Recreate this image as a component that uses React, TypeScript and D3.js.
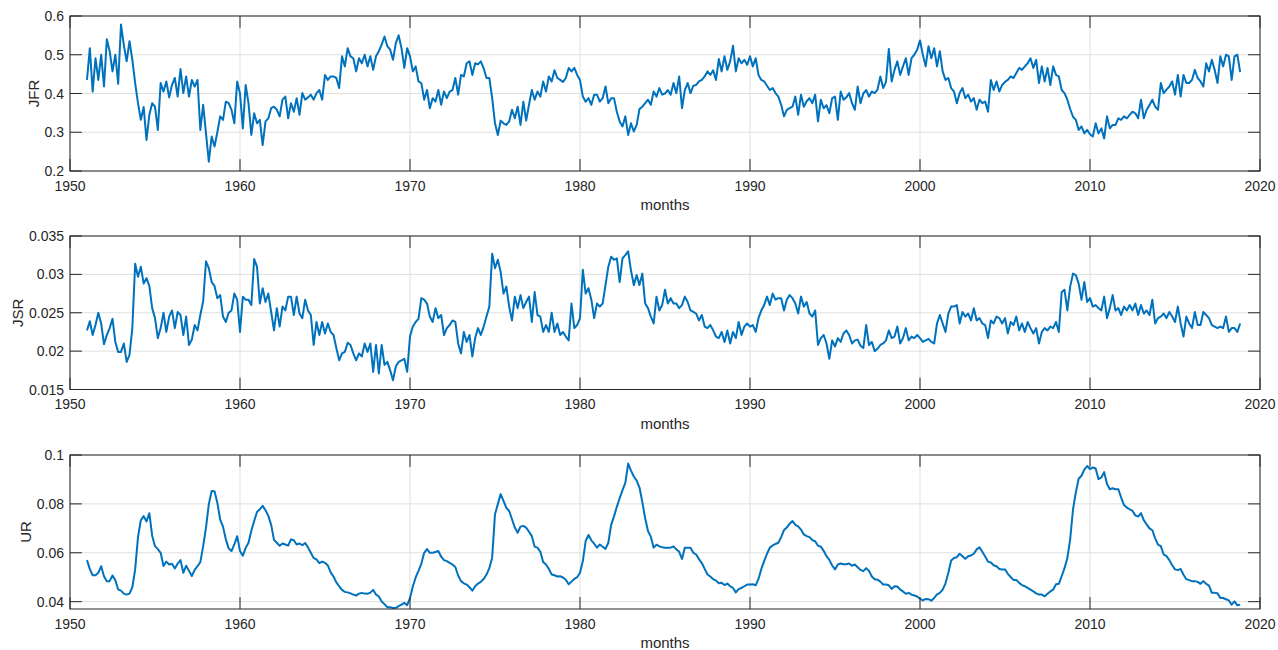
import React from 'react';
import * as d3 from 'd3';

// Monthly series sampled every two months (Jan, Mar, May, Jul, Sep, Nov), 1951-2018
const START_YEAR = 1951;
const PER_YEAR = 6;

const JFR = [
  0.435, 0.517, 0.405, 0.491, 0.435, 0.50,
  0.418, 0.54, 0.509, 0.457, 0.50, 0.425,
  0.578, 0.525, 0.483, 0.535, 0.487, 0.427,
  0.375, 0.332, 0.365, 0.28, 0.345, 0.375,
  0.366, 0.306, 0.427, 0.405, 0.431, 0.39,
  0.422, 0.44, 0.392, 0.463, 0.401, 0.444,
  0.392, 0.435, 0.418, 0.435, 0.306, 0.371,
  0.297, 0.224, 0.289, 0.263, 0.30, 0.341,
  0.332, 0.379, 0.375, 0.358, 0.323, 0.431,
  0.40, 0.31, 0.422, 0.375, 0.293, 0.349,
  0.323, 0.332, 0.267, 0.328, 0.336, 0.362,
  0.366, 0.358, 0.341, 0.384, 0.392, 0.336,
  0.375, 0.353, 0.388, 0.345, 0.401, 0.384,
  0.39, 0.397, 0.384, 0.401, 0.409, 0.384,
  0.448, 0.435, 0.444, 0.444, 0.44, 0.414,
  0.496, 0.47, 0.517, 0.496, 0.491, 0.457,
  0.491, 0.478, 0.50, 0.47, 0.496, 0.461,
  0.496, 0.509, 0.526, 0.547, 0.522, 0.513,
  0.487, 0.53, 0.55, 0.517, 0.466, 0.517,
  0.496, 0.457, 0.47, 0.431, 0.427, 0.384,
  0.409, 0.362, 0.388, 0.379, 0.409, 0.371,
  0.405, 0.388, 0.405, 0.409, 0.44, 0.397,
  0.448, 0.444, 0.478, 0.483, 0.448, 0.478,
  0.475, 0.483, 0.465, 0.44, 0.44, 0.388,
  0.323, 0.293, 0.33, 0.323, 0.319, 0.328,
  0.358, 0.336, 0.366, 0.319, 0.379, 0.33,
  0.371, 0.409, 0.384, 0.405, 0.392, 0.431,
  0.405, 0.444, 0.431, 0.46, 0.44, 0.435,
  0.43, 0.44, 0.466, 0.457, 0.466, 0.448,
  0.435, 0.392, 0.379, 0.388, 0.371, 0.397,
  0.397, 0.379, 0.388, 0.418, 0.375, 0.388,
  0.388, 0.353, 0.328, 0.315, 0.341, 0.293,
  0.323, 0.302, 0.319, 0.36, 0.366, 0.375,
  0.384, 0.371, 0.405, 0.392, 0.414, 0.397,
  0.40, 0.409, 0.397, 0.427, 0.401, 0.444,
  0.362, 0.409, 0.427, 0.401, 0.42, 0.422,
  0.431, 0.435, 0.444, 0.457, 0.448, 0.46,
  0.435, 0.489, 0.457, 0.496, 0.461, 0.483,
  0.523, 0.457, 0.491, 0.478, 0.487, 0.474,
  0.496, 0.47, 0.491, 0.448, 0.435, 0.431,
  0.42, 0.409, 0.414, 0.401, 0.392, 0.371,
  0.341, 0.358, 0.362, 0.366, 0.392, 0.345,
  0.397, 0.366, 0.38, 0.388, 0.375, 0.397,
  0.328, 0.384, 0.362, 0.37, 0.349, 0.388,
  0.392, 0.332, 0.405, 0.384, 0.39, 0.401,
  0.375, 0.358, 0.418, 0.375, 0.40, 0.409,
  0.392, 0.405, 0.401, 0.41, 0.444, 0.414,
  0.43, 0.515, 0.431, 0.461, 0.483, 0.448,
  0.47, 0.491, 0.448, 0.491, 0.50, 0.513,
  0.537, 0.50, 0.47, 0.522, 0.491, 0.517,
  0.47, 0.509, 0.457, 0.435, 0.44, 0.414,
  0.405, 0.375, 0.401, 0.414, 0.388, 0.397,
  0.379, 0.388, 0.358, 0.384, 0.375, 0.379,
  0.353, 0.435, 0.409, 0.431, 0.405, 0.422,
  0.43, 0.435, 0.444, 0.44, 0.453, 0.466,
  0.461, 0.47, 0.478, 0.491, 0.466, 0.487,
  0.427, 0.47, 0.431, 0.466, 0.422, 0.47,
  0.448, 0.444, 0.409, 0.401, 0.384, 0.36,
  0.34, 0.332, 0.306, 0.315, 0.297, 0.306,
  0.295, 0.289, 0.323, 0.297, 0.31, 0.284,
  0.341, 0.31, 0.319, 0.319, 0.336, 0.332,
  0.341, 0.336, 0.345, 0.353, 0.349, 0.336,
  0.384, 0.336, 0.358, 0.37, 0.384, 0.366,
  0.358, 0.427, 0.401, 0.41, 0.418, 0.431,
  0.397, 0.448, 0.392, 0.448, 0.427, 0.427,
  0.435, 0.461, 0.44, 0.431, 0.418, 0.478,
  0.457, 0.487, 0.461, 0.427, 0.496, 0.47,
  0.50, 0.496, 0.435, 0.496, 0.50, 0.455,
];

const JSR = [
  0.0227, 0.0239, 0.0221, 0.0234, 0.025, 0.0236,
  0.0209, 0.0221, 0.023, 0.0242, 0.0212, 0.0199,
  0.0199, 0.021, 0.0186, 0.0195, 0.023, 0.0314,
  0.0297, 0.031, 0.0288, 0.0295, 0.0285, 0.0256,
  0.0243, 0.0217, 0.023, 0.025, 0.0225, 0.0245,
  0.0253, 0.023, 0.0251, 0.0247, 0.0221, 0.0245,
  0.0208, 0.0215, 0.0234, 0.0227, 0.0247, 0.0265,
  0.0317, 0.0308, 0.029, 0.0285, 0.0269, 0.0273,
  0.0245, 0.0238, 0.025, 0.0253, 0.0275, 0.0267,
  0.0225, 0.0271, 0.0267, 0.0267, 0.026, 0.032,
  0.031, 0.0262, 0.0282, 0.0264, 0.0275, 0.0251,
  0.0227, 0.0256, 0.0232, 0.0258, 0.0253, 0.0271,
  0.0271, 0.0247, 0.0271, 0.0249, 0.0243, 0.0267,
  0.0253, 0.0247, 0.0208, 0.0238, 0.0221, 0.0238,
  0.0223, 0.0236, 0.0225, 0.0221, 0.0204, 0.0188,
  0.0197, 0.0199, 0.0211, 0.0208, 0.0197, 0.0188,
  0.0197, 0.0193, 0.021, 0.0199, 0.021, 0.0173,
  0.0208, 0.0171, 0.0208, 0.0182, 0.0186, 0.0175,
  0.0162, 0.018, 0.0186, 0.0188, 0.019, 0.0173,
  0.0219, 0.0232, 0.0238, 0.0242, 0.0269, 0.0267,
  0.0262, 0.0245, 0.0238, 0.0256, 0.0243, 0.0247,
  0.0221, 0.023, 0.0234, 0.024, 0.0238, 0.021,
  0.0197, 0.0225, 0.0212, 0.0221, 0.0193, 0.0217,
  0.023, 0.0221, 0.0232, 0.0245, 0.0258, 0.0327,
  0.0308, 0.0319, 0.0303, 0.0275, 0.0284, 0.0258,
  0.024, 0.0271, 0.0256, 0.0273, 0.0256, 0.0264,
  0.0271, 0.0238, 0.0277, 0.0247, 0.0245, 0.0225,
  0.0234, 0.0225, 0.025, 0.0225, 0.0236, 0.0221,
  0.0225, 0.0219, 0.0214, 0.0262, 0.023, 0.0234,
  0.0243, 0.0306, 0.0275, 0.0282, 0.0267, 0.0243,
  0.0262, 0.0258, 0.0262, 0.0286, 0.031, 0.0323,
  0.0319, 0.0321, 0.029, 0.0321, 0.0325, 0.033,
  0.0305, 0.0286, 0.0299, 0.0286, 0.0301, 0.0262,
  0.0256, 0.0245, 0.0236, 0.0271, 0.0253, 0.026,
  0.028, 0.0262, 0.0269, 0.0262, 0.0262, 0.0256,
  0.026, 0.0271, 0.0264, 0.0253, 0.0251, 0.0249,
  0.024, 0.0247, 0.0232, 0.023, 0.0234, 0.0227,
  0.0219, 0.0217, 0.0225, 0.0212, 0.0227, 0.021,
  0.0225, 0.0217, 0.0238, 0.0221, 0.0232, 0.0236,
  0.0232, 0.0234, 0.0225, 0.0243, 0.0253, 0.026,
  0.0271, 0.026, 0.0275, 0.0267, 0.0269, 0.0269,
  0.0253, 0.0267, 0.0273, 0.0269, 0.0262, 0.0249,
  0.0271, 0.0258, 0.0264, 0.0249, 0.0245, 0.0253,
  0.0208, 0.0217, 0.0221, 0.021, 0.019, 0.0214,
  0.0206, 0.0217, 0.0212, 0.0223, 0.0227, 0.0221,
  0.021, 0.0214, 0.0215, 0.0207, 0.0204, 0.0234,
  0.0208, 0.0212, 0.02, 0.0203, 0.0208, 0.021,
  0.0214, 0.0227, 0.0217, 0.0219, 0.0232, 0.021,
  0.0217, 0.023, 0.0214, 0.0219, 0.0217, 0.0221,
  0.0217, 0.0212, 0.0214, 0.0216, 0.0212, 0.021,
  0.0236, 0.0247, 0.0236, 0.0225, 0.0249, 0.0258,
  0.0258, 0.026, 0.0236, 0.0251, 0.0245, 0.0249,
  0.024, 0.0256, 0.024, 0.0243, 0.0236, 0.0234,
  0.0217, 0.024, 0.0236, 0.0245, 0.0243, 0.0236,
  0.0243, 0.0223, 0.0238, 0.0234, 0.0245, 0.0227,
  0.0236, 0.0225, 0.0238, 0.023, 0.0223, 0.023,
  0.021, 0.0225, 0.023, 0.0227, 0.0232, 0.023,
  0.0238, 0.0225, 0.0277, 0.028, 0.0253, 0.0284,
  0.0301, 0.0299, 0.0288, 0.0267, 0.029, 0.0264,
  0.0269, 0.0258, 0.026, 0.0256, 0.0253, 0.0271,
  0.0243, 0.0256, 0.0273, 0.0253, 0.0256, 0.0247,
  0.0258, 0.0253, 0.026, 0.0253, 0.0262, 0.0247,
  0.026, 0.0249, 0.0253, 0.0247, 0.0267, 0.0236,
  0.0243, 0.0245, 0.0249, 0.0243, 0.0251, 0.0245,
  0.0238, 0.0258, 0.0236, 0.0219, 0.0245, 0.0236,
  0.023, 0.0251, 0.0234, 0.0234, 0.0251, 0.0247,
  0.0243, 0.0234, 0.0232, 0.023, 0.0232, 0.023,
  0.0245, 0.0225, 0.023, 0.023, 0.0225, 0.0236,
];

const UR = [
  0.057, 0.0533, 0.0508, 0.0508, 0.0518, 0.0545,
  0.0504, 0.0484, 0.0484, 0.0507, 0.0488, 0.045,
  0.0445, 0.0433, 0.0429, 0.0433, 0.0459, 0.0532,
  0.0664, 0.0733, 0.075, 0.0728, 0.0762, 0.067,
  0.0627, 0.0615, 0.06, 0.0546, 0.0564, 0.0552,
  0.0555, 0.0536, 0.0556, 0.057, 0.0518, 0.0547,
  0.0526, 0.0505, 0.053, 0.0545, 0.0562, 0.0627,
  0.0703, 0.0799, 0.0853, 0.0852, 0.0805, 0.0736,
  0.0707, 0.0655, 0.0618, 0.0607, 0.0634, 0.0668,
  0.0607, 0.0588, 0.062, 0.0641, 0.069, 0.073,
  0.0767, 0.0778, 0.0792, 0.0774, 0.0751, 0.0714,
  0.0653, 0.0641, 0.0629, 0.0638, 0.0634, 0.0629,
  0.0655, 0.0651, 0.0634, 0.0638, 0.0631, 0.064,
  0.0622, 0.06, 0.0578, 0.0573, 0.0558, 0.0564,
  0.0559, 0.0548, 0.052, 0.0503, 0.0479, 0.0463,
  0.0448, 0.044, 0.0438, 0.0434, 0.0429, 0.0425,
  0.0433, 0.0436, 0.0433, 0.0432, 0.0437, 0.0448,
  0.0429, 0.0421, 0.0401, 0.039, 0.0377, 0.0377,
  0.0374, 0.0375, 0.0382, 0.0388, 0.0395, 0.0386,
  0.0415, 0.0462, 0.0499, 0.0526, 0.0555, 0.06,
  0.0615, 0.06, 0.06, 0.0603, 0.0607, 0.0584,
  0.057, 0.0566, 0.0559, 0.0552, 0.0542, 0.0507,
  0.0484, 0.0475, 0.047, 0.0459, 0.0445, 0.0463,
  0.0474, 0.0481, 0.0493, 0.0511, 0.0537, 0.058,
  0.0758, 0.0799, 0.084, 0.0812, 0.0784, 0.0771,
  0.0737, 0.0703, 0.0682, 0.0707, 0.071, 0.0703,
  0.0686, 0.0668, 0.0625, 0.0621, 0.0604, 0.0562,
  0.0552, 0.0534, 0.0511, 0.0508, 0.0503, 0.0504,
  0.0499, 0.049, 0.0471, 0.0482, 0.0493, 0.05,
  0.0518, 0.0566, 0.0648, 0.0673, 0.0651, 0.0637,
  0.0621, 0.0634, 0.0625, 0.0616, 0.0641, 0.0714,
  0.0749, 0.0788, 0.0823, 0.0856, 0.0886, 0.0965,
  0.0936, 0.0912, 0.0895, 0.0867, 0.0807, 0.0741,
  0.0689, 0.0666, 0.0621, 0.0633, 0.0626, 0.0623,
  0.0621, 0.0621, 0.0621, 0.0626, 0.0614, 0.0604,
  0.0575, 0.0621, 0.0621, 0.0621, 0.06, 0.0593,
  0.0574, 0.0558, 0.0534, 0.0511, 0.0503, 0.0492,
  0.0486, 0.0475, 0.0477, 0.0468, 0.0474, 0.0463,
  0.0456, 0.0438, 0.0451, 0.0456, 0.0463, 0.047,
  0.047, 0.0471, 0.0467, 0.0493, 0.0534, 0.0566,
  0.0596, 0.0621, 0.063, 0.0636, 0.0641, 0.0664,
  0.0693, 0.0703, 0.0719, 0.073, 0.0714, 0.0708,
  0.0695, 0.0675, 0.0668, 0.0664, 0.0652, 0.0647,
  0.0629, 0.0625, 0.0608, 0.0586, 0.0571, 0.0548,
  0.0532, 0.0552, 0.0556, 0.0553, 0.0553, 0.0556,
  0.0547, 0.0552, 0.0541, 0.053, 0.0525, 0.0537,
  0.0526, 0.0503, 0.0492, 0.049, 0.0482, 0.047,
  0.047, 0.0467, 0.0452, 0.0463, 0.0462, 0.0449,
  0.0442, 0.0432, 0.0436, 0.0429, 0.0425, 0.0421,
  0.0412, 0.0405, 0.0411, 0.041, 0.0404, 0.0415,
  0.043, 0.0436, 0.0449, 0.0475, 0.0518, 0.0568,
  0.0579, 0.0582, 0.0596, 0.0586, 0.0575, 0.0586,
  0.0589, 0.0596, 0.0614, 0.0622, 0.0604, 0.0585,
  0.0564, 0.056, 0.0549, 0.0545, 0.0534, 0.0532,
  0.0532, 0.0514, 0.0501, 0.0489, 0.0489, 0.0477,
  0.0468, 0.0463, 0.0456, 0.0449, 0.0442, 0.0434,
  0.0429, 0.0429, 0.0422, 0.0432, 0.0442, 0.0449,
  0.0471, 0.0473, 0.0504, 0.0537, 0.0578, 0.0655,
  0.0777, 0.0847, 0.0903, 0.0915, 0.094, 0.0955,
  0.0942, 0.0949, 0.0945, 0.0901, 0.0908, 0.093,
  0.0881, 0.086, 0.0864, 0.086, 0.086, 0.0826,
  0.0795, 0.0785, 0.0778, 0.0771, 0.0753, 0.0748,
  0.0762, 0.0733, 0.0716, 0.07, 0.0692, 0.0659,
  0.0633, 0.0627, 0.0593, 0.0586, 0.057, 0.0549,
  0.0532, 0.0529, 0.0534, 0.051, 0.0492, 0.0488,
  0.0484, 0.0484, 0.0481, 0.0473, 0.0484, 0.0473,
  0.0466, 0.0436, 0.0436, 0.0434, 0.0415, 0.0415,
  0.041, 0.0405, 0.0388, 0.0401, 0.0385, 0.0388,
];

const X_DOMAIN = [1950, 2020];
const X_TICKS = [1950, 1960, 1970, 1980, 1990, 2000, 2010, 2020];

const JFR_DOMAIN = [0.2, 0.6];
const JFR_TICKS = [0.2, 0.3, 0.4, 0.5, 0.6];
const JFR_TICK_LABELS = ['0.2', '0.3', '0.4', '0.5', '0.6'];

const JSR_DOMAIN = [0.015, 0.035];
const JSR_TICKS = [0.015, 0.02, 0.025, 0.03, 0.035];
const JSR_TICK_LABELS = ['0.015', '0.02', '0.025', '0.03', '0.035'];

const UR_DOMAIN = [0.037, 0.1];
const UR_TICKS = [0.04, 0.06, 0.08, 0.1];
const UR_TICK_LABELS = ['0.04', '0.06', '0.08', '0.1'];

const X_LABEL = 'months';

// ---------- layout ----------
const W = 1278;
const H = 650;
const LEFT = 70;
const RIGHT = 1260;
const TICK_LEN = 11.9;
const AXIS_COLOR = '#262626';
const GRID_COLOR = '#dfdfdf';
const LINE_COLOR = '#0072BD';
const FONT = "Helvetica, Arial, 'Liberation Sans', sans-serif";

type Panel = {
  name: string;
  values: number[];
  domain: number[];
  ticks: number[];
  labels: string[];
  top: number;
  bottom: number;
  labelX: number;
};

const PANELS: Panel[] = [
  { name: 'JFR', values: JFR, domain: JFR_DOMAIN, ticks: JFR_TICKS, labels: JFR_TICK_LABELS, top: 16, bottom: 171, labelX: 34 },
  { name: 'JSR', values: JSR, domain: JSR_DOMAIN, ticks: JSR_TICKS, labels: JSR_TICK_LABELS, top: 236, bottom: 389.5, labelX: 18 },
  { name: 'UR', values: UR, domain: UR_DOMAIN, ticks: UR_TICKS, labels: UR_TICK_LABELS, top: 455, bottom: 609, labelX: 26 },
];

const x = d3.scaleLinear().domain(X_DOMAIN).range([LEFT, RIGHT]);

function PanelView({ p }: { p: Panel }) {
  const y = d3.scaleLinear().domain(p.domain).range([p.bottom, p.top]);
  const line = d3
    .line<number>()
    .x((_, i) => x(START_YEAR + i / PER_YEAR))
    .y((v) => y(v));
  const path = line(p.values) || '';
  const clipId = `clip-${p.name}`;
  return (
    <g>
      <defs>
        <clipPath id={clipId}>
          <rect x={LEFT} y={p.top} width={RIGHT - LEFT} height={p.bottom - p.top} />
        </clipPath>
      </defs>
      <rect x={LEFT} y={p.top} width={RIGHT - LEFT} height={p.bottom - p.top} fill="#ffffff" />
      {/* grid */}
      {X_TICKS.map((t) => (
        <line key={`gx${t}`} x1={x(t)} x2={x(t)} y1={p.top} y2={p.bottom} stroke={GRID_COLOR} strokeWidth={1} />
      ))}
      {p.ticks.map((t) => (
        <line key={`gy${t}`} x1={LEFT} x2={RIGHT} y1={y(t)} y2={y(t)} stroke={GRID_COLOR} strokeWidth={1} />
      ))}
      {/* data */}
      <path d={path} fill="none" stroke={LINE_COLOR} strokeWidth={2} strokeLinejoin="round" clipPath={`url(#${clipId})`} />
      {/* box */}
      <rect x={LEFT} y={p.top} width={RIGHT - LEFT} height={p.bottom - p.top} fill="none" stroke={AXIS_COLOR} strokeWidth={1} />
      {/* ticks */}
      {X_TICKS.map((t) => (
        <g key={`tx${t}`}>
          <line x1={x(t)} x2={x(t)} y1={p.bottom} y2={p.bottom - TICK_LEN} stroke={AXIS_COLOR} strokeWidth={1} />
          <line x1={x(t)} x2={x(t)} y1={p.top} y2={p.top + TICK_LEN} stroke={AXIS_COLOR} strokeWidth={1} />
          <text x={x(t)} y={p.bottom + 19.5} textAnchor="middle" fontSize={14} fill={AXIS_COLOR} fontFamily={FONT}>
            {String(t)}
          </text>
        </g>
      ))}
      {p.ticks.map((t, i) => (
        <g key={`ty${t}`}>
          <line x1={LEFT} x2={LEFT + TICK_LEN} y1={y(t)} y2={y(t)} stroke={AXIS_COLOR} strokeWidth={1} />
          <line x1={RIGHT} x2={RIGHT - TICK_LEN} y1={y(t)} y2={y(t)} stroke={AXIS_COLOR} strokeWidth={1} />
          <text x={LEFT - 6} y={y(t)} dy="0.36em" textAnchor="end" fontSize={14} fill={AXIS_COLOR} fontFamily={FONT}>
            {p.labels[i]}
          </text>
        </g>
      ))}
      {/* labels */}
      <text x={(LEFT + RIGHT) / 2} y={p.bottom + 39} textAnchor="middle" fontSize={15} fill={AXIS_COLOR} fontFamily={FONT}>
        {X_LABEL}
      </text>
      <text
        transform={`translate(${p.labelX},${(p.top + p.bottom) / 2}) rotate(-90)`}
        textAnchor="middle"
        dy="0.36em"
        fontSize={15}
        fill={AXIS_COLOR}
        fontFamily={FONT}
      >
        {p.name}
      </text>
    </g>
  );
}

export default function App() {
  return (
    <svg
      width={W}
      height={H}
      viewBox={`0 0 ${W} ${H}`}
      style={{ position: 'absolute', left: 0, top: 0, background: '#ffffff' }}
    >
      <rect x={0} y={0} width={W} height={H} fill="#ffffff" />
      {PANELS.map((p) => (
        <PanelView key={p.name} p={p} />
      ))}
    </svg>
  );
}
